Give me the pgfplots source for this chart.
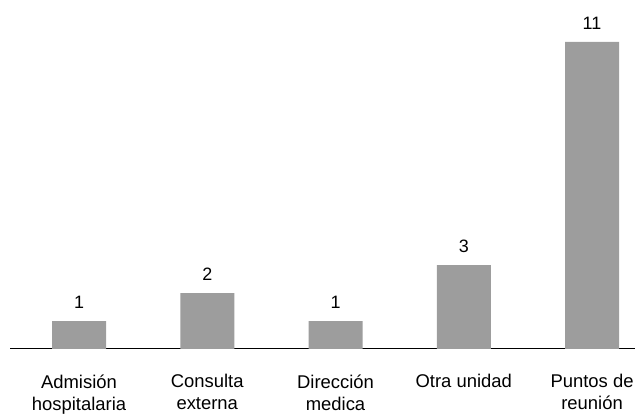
\documentclass[border=0pt]{standalone}
\usepackage{fontspec}
\setmainfont{Liberation Sans}
\usepackage{pgfplots}
\pgfplotsset{compat=1.18}
\definecolor{bargray}{HTML}{9D9D9D}
\begin{document}
\begin{tikzpicture}
\path (-10bp,-63bp) rectangle (633bp,349bp);
\begin{axis}[
  at={(0,0)}, anchor=south west,
  scale only axis,
  width=625bp, height=349bp,
  xmin=-0.538, xmax=4.335,
  ymin=0, ymax=12.5,
  axis x line=bottom,
  axis y line=none,
  axis line style={black, line width=1bp, -},
  x axis line style={-},
  xtick=data,
  xticklabels={{Admisión\\hospitalaria},{Consulta\\externa},{Dirección\\medica},{Otra unidad},{Puntos de\\reunión}},
  xticklabel style={align=center, font=\fontsize{18.5}{22}\selectfont, yshift=-22bp},
  major tick length=0pt,
  ytick=\empty,
  /pgf/number format/assume math mode=true,
  nodes near coords,
  every node near coord/.append style={font=\fontsize{18}{20}\selectfont, yshift=9bp},
  clip=false,
]
\addplot[ybar, bar width=54bp, fill=bargray, draw=none] coordinates {
  (0,1) (1,2) (2,1) (3,3) (4,11)
};
\end{axis}
\end{tikzpicture}
\end{document}
